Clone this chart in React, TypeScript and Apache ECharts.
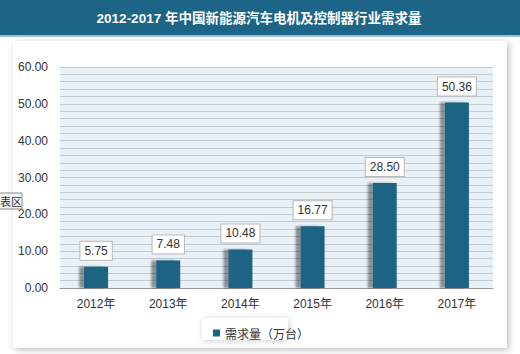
import React, { useEffect, useRef } from "react";
import * as echarts from "echarts";

const title = "2012-2017 年中国新能源汽车电机及控制器行业需求量";
const categories = ["2012年", "2013年", "2014年", "2015年", "2016年", "2017年"];
const seriesName = "需求量（万台）";
const values = [5.75, 7.48, 10.48, 16.77, 28.5, 50.36];

const FONT = "'Liberation Sans', 'Noto Sans CJK SC', sans-serif";

export default function App() {
  const ref = useRef<HTMLDivElement>(null);
  useEffect(() => {
    if (!ref.current) return;
    const chart = echarts.init(ref.current, null, { renderer: "svg" });
    chart.setOption({
      animation: false,
      backgroundColor: "#ffffff",
      textStyle: { fontFamily: FONT },
      graphic: [
        { type: "rect", z: -10, shape: { x: 0, y: 0, width: 520, height: 35 }, style: { fill: "#1d6587" } },
        { type: "rect", z: -10, shape: { x: 0, y: 35, width: 520, height: 2 }, style: { fill: "#9fc0d2" } },
        {
          type: "rect", z: -10,
          shape: { x: 13, y: 41, width: 494, height: 307 },
          style: { fill: "#ffffff", shadowBlur: 6, shadowColor: "rgba(0,0,0,0.25)", shadowOffsetX: 2, shadowOffsetY: 2 },
        },
        {
          type: "text", z: 10, x: 259, y: 18,
          style: { text: title, fill: "#ffffff", font: `bold 13.5px ${FONT}`, align: "center", verticalAlign: "middle" },
        },
        {
          type: "rect", z: 10,
          shape: { x: -2, y: 193, width: 24, height: 16 },
          style: { fill: "#f4f4f4", stroke: "#8a8a8a", lineWidth: 1 },
        },
        {
          type: "text", z: 11, x: 0, y: 201,
          style: { text: "表区", fill: "#333", font: `11px 'Noto Sans CJK SC', sans-serif`, verticalAlign: "middle" },
        },
        {
          type: "rect", z: 5,
          shape: { x: 202, y: 318, width: 86, height: 22 },
          style: { fill: "#ffffff", shadowBlur: 6, shadowColor: "rgba(0,0,0,0.18)", shadowOffsetX: 1, shadowOffsetY: 1 },
        },
      ],
      legend: {
        show: true,
        left: 208,
        top: 322,
        itemWidth: 7,
        itemHeight: 7,
        itemGap: 4,
        icon: "rect",
        textStyle: { fontSize: 12, color: "#333", fontFamily: "'Noto Sans CJK SC', sans-serif" },
        data: [seriesName],
        z: 6,
      },
      grid: {
        left: 60, right: 27, top: 67, bottom: 66,
        show: true, backgroundColor: "#e9f1f8", borderWidth: 0,
      },
      xAxis: {
        type: "category",
        data: categories,
        axisLine: { show: true, lineStyle: { color: "#9a9a9a", width: 1 } },
        axisTick: { show: false },
        axisLabel: { fontSize: 12, color: "#333", margin: 10, fontFamily: FONT },
      },
      yAxis: {
        type: "value",
        min: 0, max: 60, interval: 10,
        axisLine: { show: false },
        axisTick: { show: false },
        axisLabel: { fontSize: 12, color: "#333", margin: 12, formatter: (v: number) => v.toFixed(2), fontFamily: FONT },
        splitLine: { lineStyle: { color: "#c4c9ce", width: 1 } },
        minorTick: { show: false, splitNumber: 5 },
        minorSplitLine: { show: true, lineStyle: { color: "#c4c9ce", width: 1 } },
      },
      series: [
        {
          name: seriesName,
          type: "bar",
          data: values,
          barWidth: 24,
          itemStyle: {
            color: "#1b6384",
            shadowColor: "rgba(0,0,0,0.4)",
            shadowBlur: 2,
            shadowOffsetX: -5,
            shadowOffsetY: 0,
          },
          label: {
            show: true,
            position: "top",
            distance: 7,
            formatter: (p: any) => p.value.toFixed(2),
            fontSize: 12,
            color: "#333",
            backgroundColor: "#ffffff",
            borderColor: "#b8b8b8",
            borderWidth: 1,
            padding: [3, 4, 3, 4],
            fontFamily: FONT,
          },
        },
      ],
    });
    return () => chart.dispose();
  }, []);
  return <div ref={ref} style={{ position: "absolute", left: 0, top: 0, width: 520, height: 354 }} />;
}
